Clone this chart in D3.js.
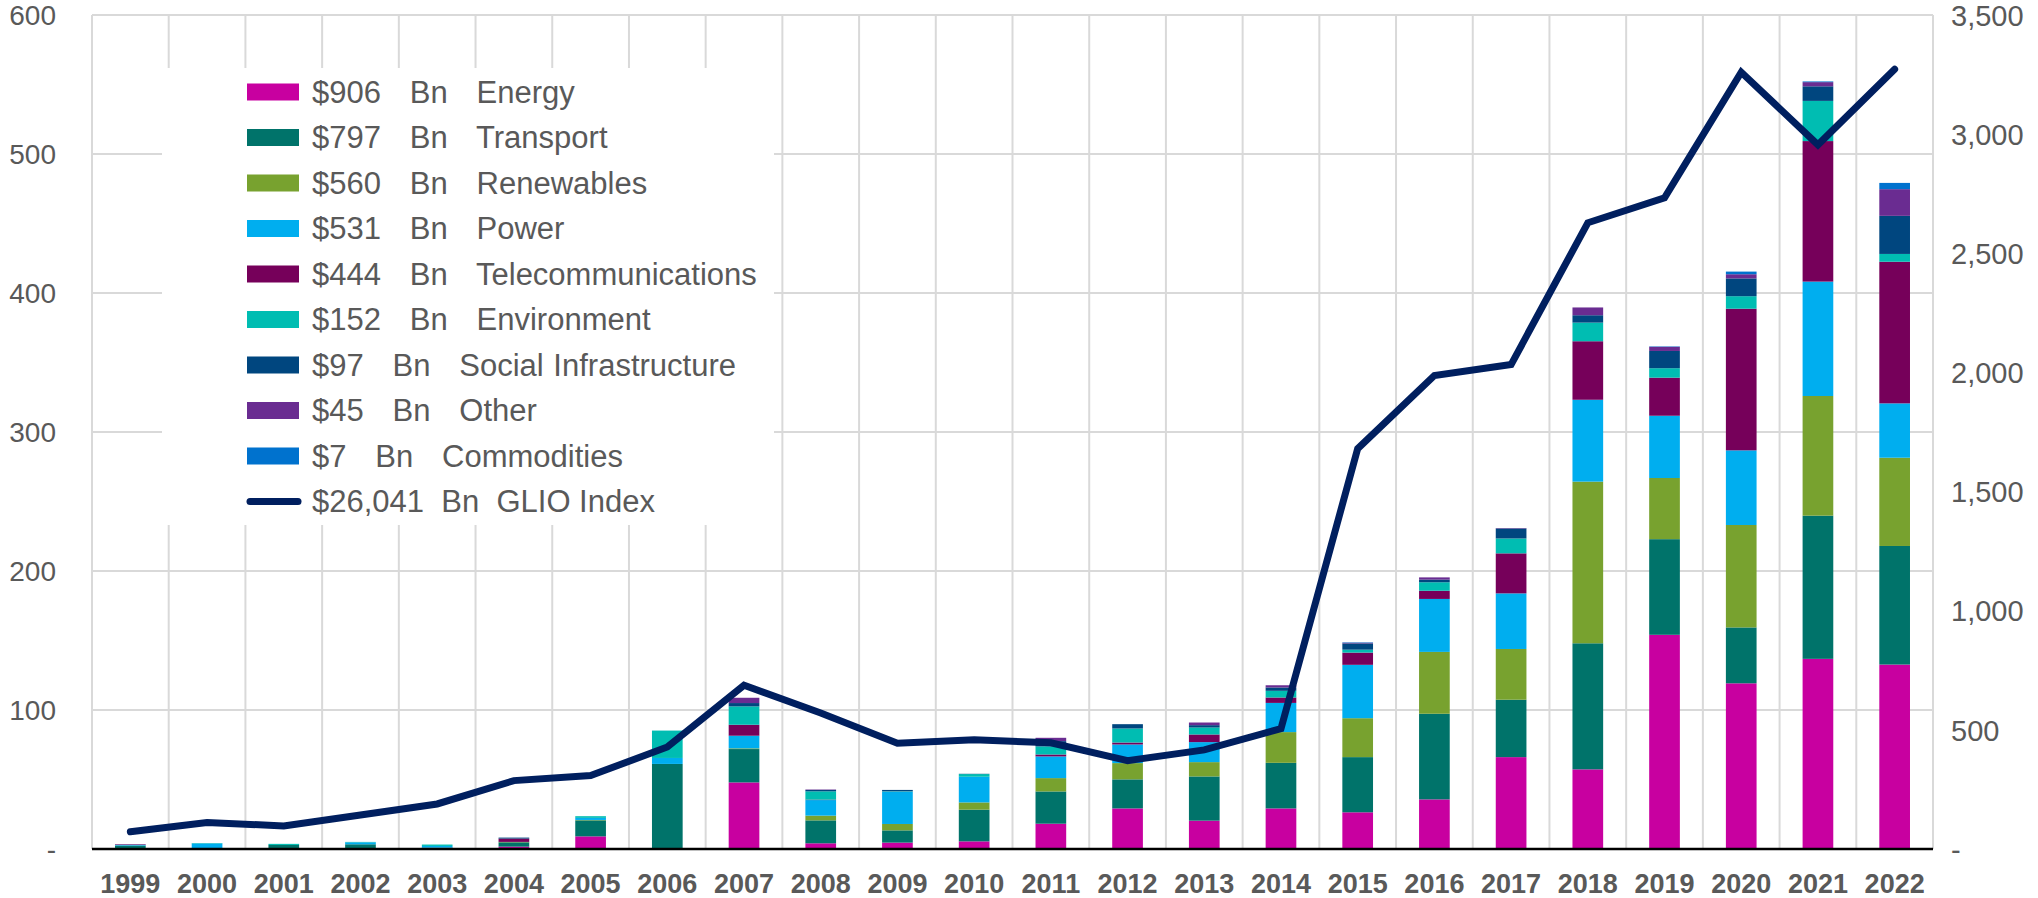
<!DOCTYPE html>
<html>
<head>
<meta charset="utf-8">
<script src="https://cdn.jsdelivr.net/npm/d3@7"></script>
<style>
  html, body { margin: 0; padding: 0; background: #ffffff; }
  svg { display: block; }
  text { font-family: "Liberation Sans", Arial, sans-serif; }
</style>
</head>
<body>
<svg id="chart" width="2038" height="898"></svg>
<script>
// ---------------- DATA ----------------
const years = [1999,2000,2001,2002,2003,2004,2005,2006,2007,2008,2009,2010,2011,2012,2013,2014,2015,2016,2017,2018,2019,2020,2021,2022];

const energy        = [0,0,0,0,0,1.7,9.1,0,47.9,4.1,4.6,5.5,18.2,29.2,20.4,29.2,26.4,35.7,66.1,57.3,154.1,119.2,136.8,132.7];
const transport     = [2.5,0,2.9,3.4,1.0,3.1,11.5,61.2,24.0,16.5,8.8,22.8,23.2,20.9,31.8,32.8,39.7,61.6,41.3,90.7,68.8,40.2,103.0,85.3];
const renewables    = [0,0,0,0,0,0.3,0.3,0,0.5,3.4,4.6,5.2,9.6,11.7,10.3,22.1,28.0,44.5,36.5,116.3,44.0,73.7,86.1,63.5];
const power         = [0.6,4.0,0,1.4,1.2,0,1.5,4.3,9.1,11.2,23.2,18.5,15.6,13.4,14.4,21.0,38.4,38.1,40.0,58.9,44.8,53.7,82.3,39.1];
const telecom       = [0.4,0,0,0,0,2.4,0,0,7.9,0.3,0,0,1.4,1.4,5.5,3.9,8.8,5.9,28.8,42.1,27.4,101.9,101.1,101.9];
const environment   = [0,0.3,0.8,0.3,1.0,0,1.2,19.7,13.2,6.0,0.3,1.9,5.8,10.1,5.0,4.8,2.1,6.1,10.7,13.4,6.8,9.0,28.9,5.6];
const social        = [0,0,0,0,0,0.7,0,0,2.4,1.0,1.0,0.2,3.8,3.1,1.7,2.4,4.5,1.9,7.2,5.3,12.4,12.8,10.5,27.4];
const other         = [0,0,0,0,0,0,0,0,3.8,0.3,0,0,2.4,0,1.9,1.6,0.5,1.6,0.3,5.6,3.0,3.0,3.0,19.2];
const commodities   = [0,0,0,0,0,0,0,0,0,0,0,0,0,0,0,0,0.3,0,0,0,0.3,1.9,0.5,4.5];

const glioIndex     = [72,111,97,143,189,287,308,428,687,571,444,458,446,371,416,505,1680,1987,2033,2628,2733,3260,2955,3272];

const seriesNames   = ["Energy","Transport","Renewables","Power","Telecommunications","Environment","Social Infrastructure","Other","Commodities"];
const seriesTotals  = ["$906","$797","$560","$531","$444","$152","$97","$45","$7"];
const seriesColors  = ["#C800A0","#00736A","#78A22F","#00AEEF","#76005A","#00BDB2","#00467F","#6A2C91","#0072CE"];
const lineName      = "GLIO Index";
const lineTotal     = "$26,041";
const lineColor     = "#001F5F";

const leftTicks  = [0,100,200,300,400,500,600];
const rightTicks = [0,500,1000,1500,2000,2500,3000,3500];

// ---------------- LAYOUT ----------------
const svg = d3.select("#chart");
const plotLeft = 92, plotRight = 1933, plotTop = 15, plotBottom = 849;
const gray = "#595959";

const x = d3.scaleBand().domain(years).range([plotLeft, plotRight]).paddingInner(0.6).paddingOuter(0.3);
const yL = d3.scaleLinear().domain([0, 600]).range([plotBottom, plotTop]);
const yR = d3.scaleLinear().domain([0, 3500]).range([plotBottom, plotTop]);
const step = x.step();
const bw = x.bandwidth();

const seriesArrays = [energy, transport, renewables, power, telecom, environment, social, other, commodities];
const table = years.map((yr, i) => {
  const row = { year: yr };
  seriesNames.forEach((n, k) => row[n] = seriesArrays[k][i]);
  return row;
});
const stack = d3.stack().keys(seriesNames)(table);

// gridlines
const grid = svg.append("g");
grid.selectAll("line.h").data(leftTicks.filter(d => d > 0)).join("line")
  .attr("x1", plotLeft).attr("x2", plotRight)
  .attr("y1", d => yL(d)).attr("y2", d => yL(d))
  .attr("stroke", "#d9d9d9").attr("stroke-width", 2);
const boundaries = years.map(yr => x(yr) - (step - bw) / 2).concat([x(years[years.length-1]) + bw + (step - bw) / 2]);
grid.selectAll("line.v").data(boundaries).join("line")
  .attr("x1", d => d).attr("x2", d => d)
  .attr("y1", plotTop).attr("y2", plotBottom)
  .attr("stroke", "#d9d9d9").attr("stroke-width", 2);

// legend background (covers gridlines)
svg.append("rect").attr("x", 162).attr("y", 68).attr("width", 612).attr("height", 457).attr("fill", "#ffffff");

// bars
const bars = svg.append("g");
stack.forEach((s, k) => {
  bars.append("g").attr("fill", seriesColors[k])
    .selectAll("rect").data(s).join("rect")
    .attr("x", d => x(d.data.year))
    .attr("width", bw)
    .attr("y", d => yL(d[1]))
    .attr("height", d => Math.max(0, yL(d[0]) - yL(d[1])));
});

// baseline
svg.append("line").attr("x1", plotLeft).attr("x2", plotRight)
  .attr("y1", plotBottom).attr("y2", plotBottom)
  .attr("stroke", "#000000").attr("stroke-width", 2.5);

// line series
const line = d3.line().x((d, i) => x(years[i]) + bw / 2).y(d => yR(d));
svg.append("path").datum(glioIndex)
  .attr("d", line).attr("fill", "none")
  .attr("stroke", lineColor).attr("stroke-width", 7)
  .attr("stroke-linecap", "round").attr("stroke-linejoin", "miter");

// axes
const fmt = d3.format(",");
const leftAxis = d3.axisLeft(yL).tickValues(leftTicks).tickSize(0).tickPadding(0)
  .tickFormat(d => d === 0 ? "-" : fmt(d));
const gL = svg.append("g").attr("transform", `translate(56,0)`).call(leftAxis);
gL.select(".domain").remove();
gL.selectAll("text").attr("font-size", 28).attr("fill", gray)
  .attr("font-family", "Liberation Sans, Arial, sans-serif").attr("dy", "0.35em");

const rightAxis = d3.axisRight(yR).tickValues(rightTicks).tickSize(0).tickPadding(0)
  .tickFormat(d => d === 0 ? "-" : fmt(d));
const gR = svg.append("g").attr("transform", `translate(1951,0)`).call(rightAxis);
gR.select(".domain").remove();
gR.selectAll("text").attr("font-size", 29).attr("fill", gray)
  .attr("font-family", "Liberation Sans, Arial, sans-serif").attr("dy", "0.35em");

const bottomAxis = d3.axisBottom(x).tickSize(0).tickPadding(0);
const gB = svg.append("g").attr("transform", `translate(0,884)`).call(bottomAxis);
gB.select(".domain").remove();
gB.selectAll("text").attr("font-size", 27).attr("font-weight", "bold").attr("fill", gray)
  .attr("font-family", "Liberation Sans, Arial, sans-serif").attr("dy", "0.35em");

// legend
const lg = svg.append("g");
const rowY = i => 92 + i * 45.5;
seriesNames.forEach((n, k) => {
  lg.append("rect").attr("x", 247).attr("y", rowY(k) - 8.5).attr("width", 52).attr("height", 17)
    .attr("fill", seriesColors[k]);
  lg.append("text").attr("x", 312).attr("y", rowY(k)).attr("dy", "0.35em")
    .attr("font-size", 31).attr("fill", gray).style("white-space", "pre").style("word-spacing", "1px")
    .text(`${seriesTotals[k]}   Bn   ${n}`);
});
const li = seriesNames.length;
lg.append("line").attr("x1", 250).attr("x2", 298).attr("y1", rowY(li)).attr("y2", rowY(li))
  .attr("stroke", lineColor).attr("stroke-width", 7).attr("stroke-linecap", "round");
lg.append("text").attr("x", 312).attr("y", rowY(li)).attr("dy", "0.35em")
  .attr("font-size", 31).attr("fill", gray).style("white-space", "pre")
  .text(`${lineTotal}  Bn  ${lineName}`);
</script>
</body>
</html>
